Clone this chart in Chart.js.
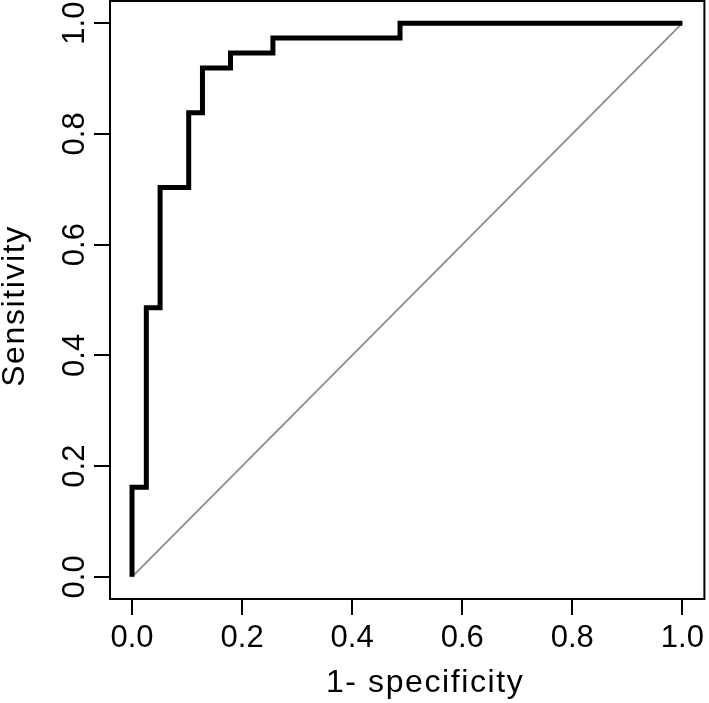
<!DOCTYPE html>
<html>
<head>
<meta charset="utf-8">
<script src="https://cdn.jsdelivr.net/npm/chart.js@4.4.1/dist/chart.umd.min.js"></script>
<style>
  html, body { margin: 0; padding: 0; background: #fff; }
  canvas { display: block; }
</style>
</head>
<body>
<canvas id="roc" width="709" height="703"></canvas>
<script>
// ROC points: (1 - specificity, sensitivity)
const falsePosRate = [0, 0, 0.026, 0.026, 0.051, 0.051, 0.103, 0.103, 0.128, 0.128, 0.179, 0.179, 0.256, 0.256, 0.487, 0.487, 1];
const sensitivity  = [0, 0.162, 0.162, 0.486, 0.486, 0.703, 0.703, 0.838, 0.838, 0.919, 0.919, 0.946, 0.946, 0.973, 0.973, 1, 1];
// chance line
const chanceX = [0, 1];
const chanceY = [0, 1];
const tickValues = [0, 0.2, 0.4, 0.6, 0.8, 1.0];
const xTitle = '1- specificity';
const yTitle = 'Sensitivity';

const FONT = '"Liberation Sans", Arial, Helvetica, sans-serif';

const toPoints = (xs, ys) => xs.map((x, i) => ({ x: x, y: ys[i] }));
const setTicks = (scale) => { scale.ticks = tickValues.map(v => ({ value: v })); };

// R style extras: box round the plot region, rotated y labels, axis titles
const rPlotExtras = {
    id: 'rPlotExtras',
    afterDraw(chart) {
        let { ctx, chartArea, scales } = chart;
        ctx.save();
        ctx.strokeStyle = '#000';
        ctx.lineWidth = 2;
        ctx.strokeRect(chartArea.left, chartArea.top, chartArea.right - chartArea.left, chartArea.bottom - chartArea.top);

        ctx.fillStyle = '#000';
        ctx.font = '31px ' + FONT;
        ctx.textAlign = 'center';
        ctx.textBaseline = 'alphabetic';
        for (let t of scales.y.ticks) {
            ctx.save();
            ctx.translate(chartArea.left - 26.5, scales.y.getPixelForValue(t.value));
            ctx.rotate(-Math.PI / 2);
            ctx.fillText(t.value.toFixed(1), 0, 0);
            ctx.restore();
        }

        ctx.font = '32px ' + FONT;
        ctx.letterSpacing = '1.6px';
        let midX = (chartArea.left + chartArea.right) / 2;
        let midY = (chartArea.top + chartArea.bottom) / 2;
        ctx.fillText(xTitle, midX + 18, chartArea.bottom + 93);

        ctx.save();
        ctx.translate(23.5, midY + 6);
        ctx.rotate(-Math.PI / 2);
        ctx.fillText(yTitle, 0, 0);
        ctx.restore();
        ctx.restore();
    }
};

const axisStyle = {
    type: 'linear',
    min: -0.04,
    max: 1.04,
    afterBuildTicks: setTicks,
    grid: {
        display: true,
        drawOnChartArea: false,
        drawTicks: true,
        tickLength: 16,
        color: '#000',
        lineWidth: 2
    },
    border: { display: true, color: '#000', width: 2 }
};

new Chart(document.getElementById('roc'), {
    type: 'line',
    data: {
        datasets: [
            {
                label: 'ROC',
                data: toPoints(falsePosRate, sensitivity),
                borderColor: '#000',
                borderWidth: 5,
                borderJoinStyle: 'miter',
                borderCapStyle: 'butt',
                pointRadius: 0,
                tension: 0,
                fill: false
            },
            {
                label: 'chance',
                data: toPoints(chanceX, chanceY),
                borderColor: '#8c8c8c',
                borderWidth: 1.8,
                pointRadius: 0,
                tension: 0,
                fill: false
            }
        ]
    },
    plugins: [rPlotExtras],
    options: {
        responsive: false,
        devicePixelRatio: 1,
        animation: false,
        layout: { padding: { top: 1, right: 2, left: 0, bottom: 0 } },
        plugins: {
            legend: { display: false },
            tooltip: { enabled: false }
        },
        scales: {
            x: Object.assign({}, axisStyle, {
                position: 'bottom',
                afterFit: (s) => { s.height = 104; },
                ticks: {
                    display: true,
                    color: '#000',
                    padding: 5,
                    maxRotation: 0,
                    font: { family: FONT, size: 31 },
                    callback: (v) => Number(v).toFixed(1)
                }
            }),
            y: Object.assign({}, axisStyle, {
                position: 'left',
                afterFit: (s) => { s.width = 110; },
                ticks: { display: false }
            })
        }
    }
});
</script>
</body>
</html>
